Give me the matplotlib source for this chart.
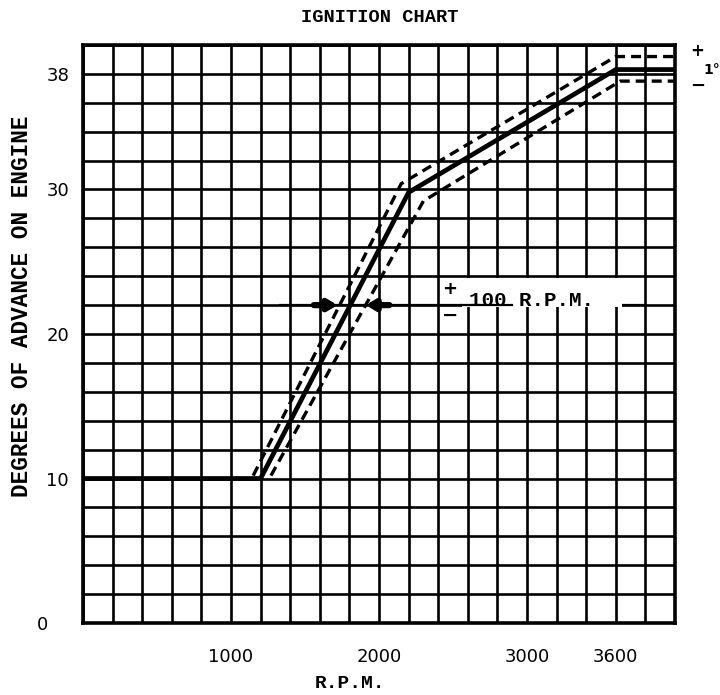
import matplotlib
matplotlib.use('Agg')
import matplotlib.pyplot as plt
import numpy as np
from matplotlib.patches import Rectangle

# ---- data ----
main_rpm = [0, 1200, 2200, 3600, 4000]
main_deg = [10, 10, 29.8, 38.3, 38.3]
adv_rpm = [1150, 2150, 3600, 4000]          # +100 rpm / +1 deg band
adv_deg = [10.2, 30.4, 39.2, 39.2]
ret_rpm = [1270, 2300, 3630, 4000]          # -100 rpm / -1 deg band
ret_deg = [10.2, 29.2, 37.5, 37.5]

x_ticks = [1000, 2000, 3000, 3600]
x_labels = ['1000', '2000', '3000', '3600']
y_ticks = [0, 10, 20, 30, 38]
y_labels = ['0', '10', '20', '30', '38']

note_deg = 22
note_line_rpm = [1330, 3800]
arrow_left_rpm = [1560, 1720]
arrow_right_rpm = [2070, 1910]
note_text = '100 R.P.M.'

# ---- figure ----
fig = plt.figure(figsize=(7.2, 6.95), dpi=100)
ax = fig.add_axes([83/720, 1-623/695, 592/720, 578/695])
ax.set_xlim(0, 4000)
ax.set_ylim(0, 40)

ax.set_xticks(np.arange(0, 4001, 200), minor=True)
ax.set_yticks(np.arange(0, 41, 2), minor=True)
ax.set_xticks(x_ticks)
ax.set_xticklabels(x_labels)
ax.set_yticks(y_ticks)
ax.set_yticklabels(y_labels)
ax.set_axisbelow(True)
ax.grid(which='both', color='black', linewidth=1.9)
ax.tick_params(which='both', length=0)
ax.tick_params(axis='x', pad=18, labelsize=13)
ax.tick_params(axis='y', pad=10, labelsize=13)
ax.yaxis.get_major_ticks()[0].set_pad(25)
for s in ax.spines.values():
    s.set_linewidth(2.6)

# curves
ax.plot(main_rpm, main_deg, color='black', lw=3.4, solid_joinstyle='round', zorder=4)
ax.plot(adv_rpm, adv_deg, color='black', lw=2.4, dashes=(3, 1.8), zorder=4)
ax.plot(ret_rpm, ret_deg, color='black', lw=2.4, dashes=(3, 1.8), zorder=4)

# tolerance annotation
ax.plot(note_line_rpm, [note_deg, note_deg], color='black', lw=1.6, zorder=2)
ax.add_patch(Rectangle((2560, 21.85), 1080, 2.05, facecolor='white',
                       edgecolor='none', zorder=3))
ax.plot([2560, 2900], [note_deg, note_deg], color='black', lw=1.6, zorder=4)
for a, b in (arrow_left_rpm, arrow_right_rpm):
    ax.annotate('', xy=(b, note_deg), xytext=(a, note_deg),
                arrowprops=dict(arrowstyle='-|>,head_length=0.5,head_width=0.3',
                                lw=4.5, color='black', shrinkA=0, shrinkB=0),
                zorder=5)
ax.text(2480, 23.1, '+', fontsize=13, fontweight='bold', ha='center', va='center', zorder=5)
ax.text(2480, 21.3, '\u2212', fontsize=14, fontweight='bold', ha='center', va='center', zorder=5)
ax.text(2610, 21.95, note_text, fontsize=15, fontweight='bold',
        family='Liberation Mono', ha='left', va='baseline', zorder=5)

# +/- 1 degree at right
ax.text(4150, 39.6, '+', fontsize=12, fontweight='bold', ha='center', va='center', clip_on=False)
ax.text(4150, 37.2, '\u2212', fontsize=13, fontweight='bold', ha='center', va='center', clip_on=False)
ax.text(4190, 38.3, '1\u00b0', fontsize=10, fontweight='bold', ha='left', va='center', clip_on=False)

# titles
fig.text(380/720, 1-17/695, 'IGNITION CHART', fontsize=13.5, fontweight='bold',
         family='Liberation Mono', ha='center', va='center')
fig.text(350/720, 1-684/695, 'R.P.M.', fontsize=14, fontweight='bold',
         family='Liberation Mono', ha='center', va='center')
fig.text(22/720, 1-306/695, 'DEGREES OF ADVANCE ON ENGINE', fontsize=16.3, fontweight='bold',
         family='Liberation Mono', rotation=90, ha='center', va='center')

fig.savefig('out.png', dpi=100, facecolor='white')
